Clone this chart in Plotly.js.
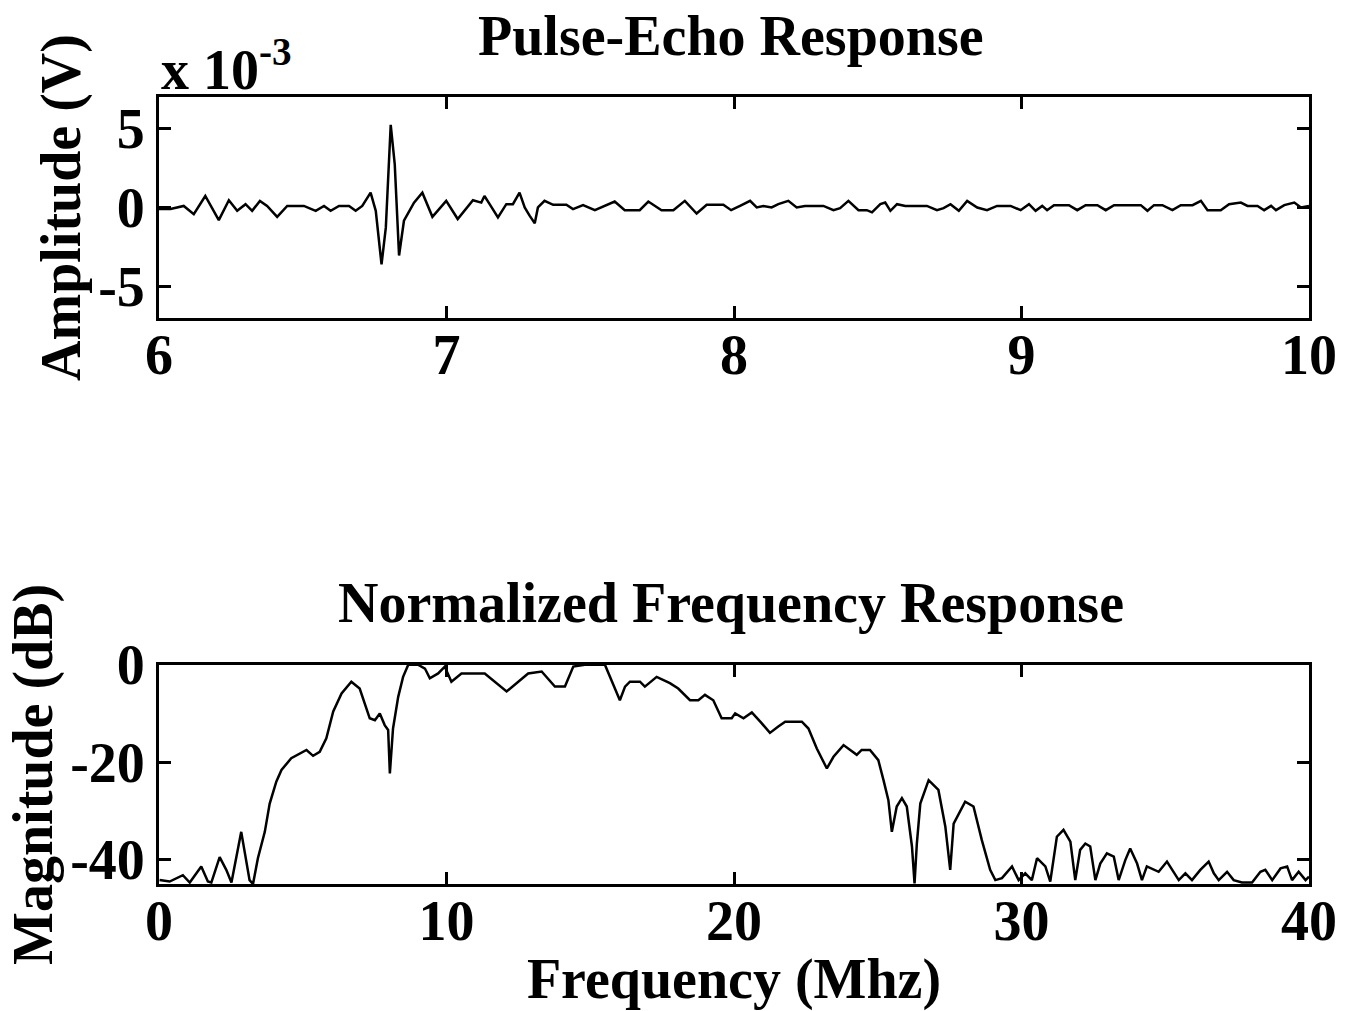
<!DOCTYPE html>
<html>
<head>
<meta charset="utf-8">
<script src="https://cdn.plot.ly/plotly-3.0.1.min.js"></script>
<style>html,body{margin:0;padding:0;background:#fff;}#chart{width:1351px;height:1011px;}</style>
</head>
<body>
<div id="chart"></div>
<script>
// Pulse-echo time signal (time in microseconds, amplitude in units of 1e-3 V)
const timeUs = [6.000,6.040,6.086,6.121,6.161,6.208,6.243,6.272,6.301,6.324,6.351,6.376,6.411,6.446,6.504,6.545,6.574,6.597,6.626,6.661,6.684,6.707,6.736,6.754,6.774,6.789,6.806,6.820,6.835,6.852,6.887,6.916,6.951,6.999,7.039,7.063,7.092,7.121,7.132,7.150,7.179,7.208,7.231,7.254,7.272,7.289,7.307,7.318,7.341,7.371,7.417,7.440,7.475,7.516,7.556,7.585,7.620,7.672,7.702,7.748,7.789,7.829,7.870,7.905,7.963,7.990,8.021,8.056,8.079,8.102,8.131,8.154,8.189,8.218,8.247,8.311,8.346,8.369,8.398,8.433,8.462,8.480,8.509,8.526,8.544,8.567,8.596,8.671,8.706,8.729,8.753,8.782,8.811,8.846,8.880,8.915,8.962,8.997,9.026,9.049,9.072,9.089,9.113,9.165,9.194,9.223,9.264,9.293,9.322,9.415,9.438,9.461,9.490,9.525,9.554,9.595,9.624,9.647,9.693,9.722,9.763,9.786,9.821,9.844,9.868,9.885,9.914,9.949,9.972,10.000];
const amplitudeE3 = [-0.1,-0.1,0.1,-0.42,0.73,-0.8,0.46,-0.21,0.21,-0.21,0.42,0.1,-0.59,0.1,0.1,-0.21,0.1,-0.21,0.1,0.1,-0.21,0.1,0.94,-0.21,-3.61,-1.26,5.24,2.73,-3.04,-0.84,0.31,0.94,-0.59,0.42,-0.73,-0.21,0.46,0.31,0.73,0.21,-0.63,0.21,0.21,0.94,0,-0.52,-1.0,0,0.42,0.17,0.17,-0.1,0.15,-0.17,0.17,0.38,-0.17,-0.17,0.38,-0.17,-0.17,0.42,-0.38,0.17,0.17,-0.17,0.1,0.42,0,0.1,0,0.21,0.42,0,0.1,0.1,-0.17,-0.04,0.42,-0.17,-0.17,-0.31,0.21,0.31,-0.21,0.21,0.1,0.1,-0.17,-0.04,0.21,-0.21,0.42,0,-0.17,0.1,0.1,-0.17,0.21,-0.21,0.1,-0.17,0.15,0.15,-0.17,0.15,0.15,-0.17,0.15,0.15,-0.21,0.15,0.15,-0.17,0.15,0.15,0.42,-0.17,-0.17,0.21,0.31,0.1,0.1,-0.17,0.1,-0.17,0.15,0.31,0,0.1];

// Normalized frequency response (MHz, dB)
const freqMHz = [0.02,0.37,0.83,1.07,1.47,1.70,1.82,2.11,2.34,2.52,2.86,3.15,3.27,3.44,3.68,3.85,4.08,4.26,4.60,4.89,5.13,5.36,5.59,5.82,6.06,6.35,6.69,6.98,7.33,7.51,7.68,7.85,7.97,8.03,8.14,8.32,8.49,8.67,9.01,9.25,9.42,9.71,9.94,10.17,10.52,11.33,12.09,12.84,13.31,13.77,14.12,14.41,14.81,15.51,15.74,16.03,16.21,16.38,16.73,16.90,17.31,17.77,18.06,18.47,18.76,18.99,19.28,19.57,19.92,20.04,20.33,20.62,20.96,21.25,21.54,21.78,22.36,22.59,22.88,23.23,23.46,23.81,24.27,24.44,24.73,25.02,25.20,25.37,25.49,25.66,25.84,26.01,26.19,26.28,26.36,26.48,26.77,27.11,27.35,27.52,27.64,28.04,28.33,28.62,28.91,29.09,29.32,29.67,29.90,30.13,30.36,30.54,30.83,31.00,31.23,31.46,31.70,31.87,32.04,32.22,32.39,32.57,32.74,32.97,33.21,33.38,33.61,33.78,34.02,34.19,34.36,34.60,34.77,35.06,35.24,35.47,35.70,35.93,36.22,36.51,36.69,36.86,37.15,37.38,37.67,38.02,38.31,38.48,38.72,39.01,39.24,39.41,39.64,39.88,40.00];
const magnitudeDb = [-44.2,-44.5,-43.2,-44.7,-41.4,-44.5,-44.7,-39.5,-42.1,-44.7,-34.3,-44.2,-45.0,-39.7,-34.3,-28.5,-24.0,-21.6,-19.2,-18.2,-17.5,-18.7,-17.9,-15.1,-9.6,-5.9,-3.5,-4.9,-11.0,-11.4,-10.0,-12.4,-13.4,-22.3,-13.1,-6.6,-2.5,0,0,-0.8,-2.8,-1.8,-0.4,-3.5,-1.8,-1.8,-5.5,-1.8,-1.4,-4.5,-4.5,-0.4,0,0,-3.1,-7.3,-4.5,-3.5,-3.5,-4.5,-2.5,-3.8,-4.9,-7.3,-7.3,-6.2,-7.3,-11.0,-11.0,-10.0,-11.0,-9.8,-12.0,-14.0,-12.7,-11.7,-11.7,-13.1,-17.2,-21.3,-18.9,-16.5,-18.5,-17.5,-17.5,-19.6,-23.7,-27.8,-34.3,-29.1,-27.4,-29.1,-37.3,-44.9,-36.7,-28.5,-23.7,-25.7,-33.2,-42.1,-32.6,-28.1,-29.1,-36.0,-42.1,-44.2,-43.8,-41.4,-44.2,-42.8,-44.2,-39.7,-41.4,-44.5,-35.3,-33.9,-36.3,-44.2,-38.0,-36.7,-37.3,-44.2,-40.8,-38.7,-39.4,-44.2,-40.1,-37.7,-40.8,-44.2,-41.4,-42.1,-42.5,-40.4,-42.1,-44.2,-42.8,-44.2,-42.1,-40.4,-42.8,-44.2,-42.5,-44.2,-44.7,-44.7,-42.5,-42.1,-44.2,-41.8,-41.4,-44.2,-42.5,-44.2,-43.5];

// Tick values / labels
const timeTicks = [6, 7, 8, 9, 10];
const ampTicks = [-5, 0, 5];
const ampTickText = ['-5', '0', '5'];
const freqTicks = [0, 10, 20, 30, 40];
const dbTicks = [-40, -20, 0];
const dbTickText = ['-40', '-20', '0'];

const FONT = 'Liberation Serif, Times New Roman, serif';
const tickFont = {family: FONT, size: 56, color: '#000', weight: 'bold'};
const titleFont = {family: FONT, size: 56, color: '#000', weight: 'bold'};

const axisCommon = {
  showline: true, linecolor: '#000', linewidth: 3, mirror: 'ticks',
  ticks: 'inside', ticklen: 12, tickwidth: 3, tickcolor: '#000',
  showgrid: false, zeroline: false, tickfont: tickFont, fixedrange: true
};

const traces = [
  {x: timeUs, y: amplitudeE3, xaxis: 'x', yaxis: 'y', type: 'scatter', mode: 'lines',
   line: {color: '#000', width: 2.5}, hoverinfo: 'skip'},
  {x: freqMHz, y: magnitudeDb, xaxis: 'x2', yaxis: 'y2', type: 'scatter', mode: 'lines',
   line: {color: '#000', width: 2.5}, hoverinfo: 'skip'}
];

const layout = {
  width: 1351, height: 1011,
  margin: {l: 159, r: 42, t: 97, b: 127},
  paper_bgcolor: '#fff', plot_bgcolor: '#fff',
  showlegend: false,
  xaxis: Object.assign({}, axisCommon, {
    domain: [0, 1], anchor: 'y', range: [6, 10],
    tickmode: 'array', tickvals: timeTicks, ticklabelstandoff: -14
  }),
  yaxis: Object.assign({}, axisCommon, {
    domain: [0.7192, 1], anchor: 'x', range: [-7, 7],
    tickmode: 'array', tickvals: ampTicks, ticktext: ampTickText,
    title: {text: 'Amplitude (V)', font: titleFont, standoff: 0}
  }),
  xaxis2: Object.assign({}, axisCommon, {
    domain: [0, 1], anchor: 'y2', range: [0, 40],
    tickmode: 'array', tickvals: freqTicks, ticklabelstandoff: -14,
    title: {text: 'Frequency (Mhz)', font: titleFont, standoff: 0}
  }),
  yaxis2: Object.assign({}, axisCommon, {
    domain: [0, 0.2787], anchor: 'x2', range: [-45, 0],
    tickmode: 'array', tickvals: dbTicks, ticktext: dbTickText,
    title: {text: 'Magnitude (dB)', font: titleFont, standoff: 0}
  }),
  annotations: [
    {text: 'Pulse-Echo Response', xref: 'paper', yref: 'paper', x: 0.497, y: 1.077,
     xanchor: 'center', yanchor: 'middle', showarrow: false, font: titleFont},
    {text: 'Normalized Frequency Response', xref: 'paper', yref: 'paper', x: 0.497, y: 0.357,
     xanchor: 'center', yanchor: 'middle', showarrow: false, font: titleFont},
    {text: 'x 10<sup>-3</sup>', xref: 'paper', yref: 'paper', x: 0, y: 1.0,
     xanchor: 'left', yanchor: 'bottom', yshift: -6, showarrow: false, font: tickFont}
  ]
};

Plotly.newPlot('chart', traces, layout, {displayModeBar: false, staticPlot: true});
</script>
</body>
</html>
